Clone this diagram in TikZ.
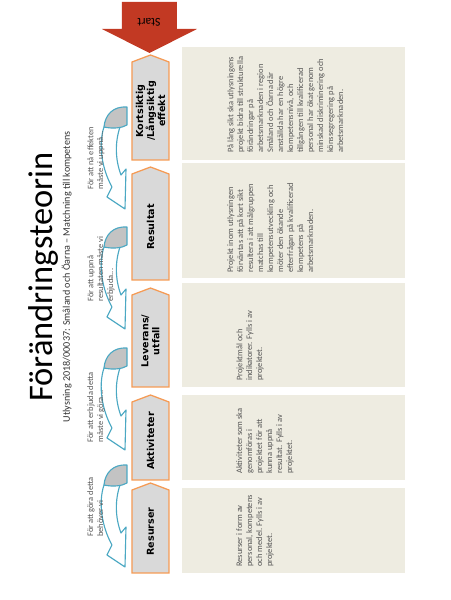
\documentclass[tikz,border=0pt]{standalone}
\usepackage{fontspec}
\setmainfont{Carlito}
\newfontfamily\boxfont{DejaVu Sans}
\definecolor{chevline}{RGB}{245,155,85}
\definecolor{chevfill}{RGB}{217,217,217}
\definecolor{boxfill}{RGB}{238,236,225}
\definecolor{curveblue}{RGB}{75,168,195}
\definecolor{backgray}{RGB}{195,195,195}
\definecolor{startred}{RGB}{194,57,35}
\definecolor{textgray}{RGB}{85,85,85}

\begin{document}
\begin{tikzpicture}[x=0.025cm, y=0.025cm,
  chev/.style={draw=chevline, line width=0.9pt, fill=chevfill},
  chevtext/.style={font=\boxfont\bfseries\fontsize{6.8}{7.8}\selectfont, align=center, inner sep=0pt},
  boxtext/.style={font=\fontsize{6}{7.1}\selectfont, text=textgray, align=left, anchor=north west, inner sep=0pt},
  arrowlabel/.style={font=\fontsize{6}{7.1}\selectfont, text=textgray, align=left, anchor=north west, inner sep=0pt},
  band/.style={draw=curveblue, line width=0.8pt, fill=white, line join=round},
  back/.style={draw=curveblue, line width=0.8pt, fill=backgray, line join=round}]

\begin{scope}[rotate=90, transform shape]
\useasboundingbox (0,0) rectangle (600,450);

  % Judul dan subjudul
  \node[font=\fontsize{24.5}{29}\selectfont, anchor=base, inner sep=0pt] (title) at (323,397) {Förändringsteorin};
  \node[font=\fontsize{7.2}{8.6}\selectfont, anchor=base, inner sep=0pt, text=black!80] (subtitle) at (323,380) {Utlysning 2018/00037: Småland och Öarna – Matchning till kompetens};

  % Panah merah "Start"
  \fill[startred] (598,273) -- (571,273) -- (571,253) -- (547,300.5) -- (571,348) -- (571,328) -- (598,328) -- cycle;
  \node[font=\fontsize{8.5}{10}\selectfont, rotate=90, inner sep=0pt] (start) at (578,301) {Start};

  % Kotak latar krem
  \fill[boxfill] (27,45) rectangle (112,268);
  \fill[boxfill] (120,45) rectangle (205,268);
  \fill[boxfill] (213,45) rectangle (317,268);
  \fill[boxfill] (322,45) rectangle (437,268);
  \fill[boxfill] (440,45) rectangle (553,268);

  % Tahapan (bentuk panah abu-abu)
  \draw[chev] (27,281) -- (110,281) -- (117,299.5) -- (110,318) -- (27,318) -- cycle;
  \draw[chev] (120,281) -- (198,281) -- (205,299.5) -- (198,318) -- (120,318) -- cycle;
  \draw[chev] (213,281) -- (305,281) -- (312,299.5) -- (305,318) -- (213,318) -- cycle;
  \draw[chev] (320,281) -- (426,281) -- (433,299.5) -- (426,318) -- (320,318) -- cycle;
  \draw[chev] (440,281) -- (538,281) -- (545,299.5) -- (538,318) -- (440,318) -- cycle;

  \node[chevtext] (R1) at (68.5,299.5) {Resurser};
  \node[chevtext] (R2) at (159,299.5) {Aktiviteter};
  \node[chevtext] (R3) at (259,299.5) {Leverans/\\utfall};
  \node[chevtext] (R4) at (373,299.5) {Resultat};
  \node[chevtext] (R5) at (489,299.5) {Kortsiktig\\/Långsiktig\\effekt};

  % Panah lengkung biru
  \begin{scope}[shift={(135,323)}]
    \draw[band] (-20,23) .. controls (-38,29) and (-62,25) .. (-80,15) -- (-90,20) -- (-102,2) -- (-62,1) -- (-68,6) .. controls (-52,12) and (-35,12) .. (-20,7) -- cycle;
    \draw[back] (0,0) .. controls (1,14) and (-8,22) .. (-20,23) .. controls (-22,14) and (-21,5) .. (-18,0) -- cycle;
  \end{scope}
  \begin{scope}[shift={(252,323)}]
    \draw[band] (-20,23) .. controls (-38,29) and (-62,25) .. (-80,15) -- (-90,20) -- (-102,2) -- (-62,1) -- (-68,6) .. controls (-52,12) and (-35,12) .. (-20,7) -- cycle;
    \draw[back] (0,0) .. controls (1,14) and (-8,22) .. (-20,23) .. controls (-22,14) and (-21,5) .. (-18,0) -- cycle;
  \end{scope}
  \begin{scope}[shift={(373,323)}]
    \draw[band] (-20,23) .. controls (-38,29) and (-62,25) .. (-80,15) -- (-90,20) -- (-102,2) -- (-62,1) -- (-68,6) .. controls (-52,12) and (-35,12) .. (-20,7) -- cycle;
    \draw[back] (0,0) .. controls (1,14) and (-8,22) .. (-20,23) .. controls (-22,14) and (-21,5) .. (-18,0) -- cycle;
  \end{scope}
  \begin{scope}[shift={(493,323)}]
    \draw[band] (-20,23) .. controls (-38,29) and (-62,25) .. (-80,15) -- (-90,20) -- (-102,2) -- (-62,1) -- (-68,6) .. controls (-52,12) and (-35,12) .. (-20,7) -- cycle;
    \draw[back] (0,0) .. controls (1,14) and (-8,22) .. (-20,23) .. controls (-22,14) and (-21,5) .. (-18,0) -- cycle;
  \end{scope}

  % Label panah lengkung
  \node[arrowlabel] (L1) at (63,363) {För att göra detta\\behöver vi};
  \node[arrowlabel] (L2) at (157,363) {För att erbjuda detta\\måste vi göra...};
  \node[arrowlabel] (L3) at (298,363) {För att uppnå\\resultaten måste vi\\erbjuda...};
  \node[arrowlabel] (L4) at (410,363) {För att nå effekten\\måste vi uppnå...};

  % Teks penjelasan
  \node[boxtext] (T1) at (33,214) {Resurser i form av\\personal, kompetens\\och medel. Fylls i av\\projektet.};
  \node[boxtext] (T2) at (126,214) {Aktiviteter som ska\\genomföras i\\projektet för att\\kunna uppnå\\resultat. Fylls i av\\projektet.};
  \node[boxtext] (T3) at (219,214) {Projektmål och\\indikatorer. Fylls i av\\projektet.};
  \node[boxtext] (T4) at (327,223) {Projekt inom utlysningen\\förväntas att på kort sikt\\resultera i att målgruppen\\matchas till\\kompetensutveckling och\\möter den ökande\\efterfrågan på kvalificerad\\kompetens på\\arbetsmarknaden.};
  \node[boxtext] (T5) at (447,223) {På lång sikt ska utlysningens\\projekt bidra till strukturella\\förändringar på\\arbetsmarknaden i region\\Småland och Öarna där\\anställda har en högre\\kompetensnivå, och\\tillgången till kvalificerad\\personal har ökat genom\\minskad diskriminering och\\könssegregering på\\arbetsmarknaden.};

\end{scope}
\end{tikzpicture}
\end{document}
